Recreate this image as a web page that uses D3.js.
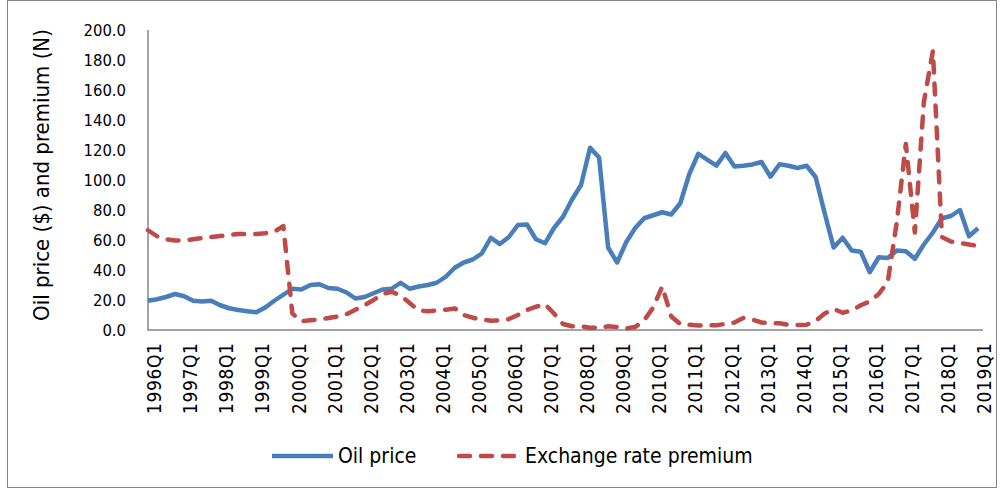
<!DOCTYPE html>
<html>
<head>
<meta charset="utf-8">
<script src="https://cdn.jsdelivr.net/npm/d3@7"></script>
<style>
body { margin: 0; background: #fff; }
text { font-family: "Liberation Sans Narrow", "Arial Narrow", "DejaVu Sans Condensed", sans-serif; fill: #000; }
</style>
</head>
<body>
<div id="chart"></div>
<script>
var years = d3.range(1996, 2020);
var quarters = [];
years.forEach(function (yr) {
  [1, 2, 3, 4].forEach(function (q) {
    if (yr < 2019 || q == 1) quarters.push(yr + "Q" + q);
  });
});
var tickLabels = quarters.filter(function (d) { return d.slice(-2) == "Q1"; });

var oilPrice = [
  19.5, 20.5, 22, 24, 22.5, 19.5, 19, 19.5,
  16.5, 14.5, 13.3, 12.5, 11.8, 15, 19.5, 23.5,
  27.5, 27, 30, 30.5, 28, 27.5, 25, 21,
  22, 24.5, 27, 27.5, 31.5, 27.5, 29, 30,
  31.5, 35.5, 41.5, 45, 47, 51, 61.5, 57.3,
  62, 70, 70.4, 60.5, 57.8, 68, 75.5, 87,
  96.7, 121.5, 115, 55, 45, 58.5, 68, 74.5,
  76.5, 78.5, 77, 84.5, 104, 117.5, 113.5, 109.6,
  118, 109, 109.5, 110.4, 112, 102.2, 110.5, 109.5,
  108, 109.5, 102, 78, 55, 61.5, 53, 52.2,
  38.5, 48.5, 48, 53, 52.5, 47.5, 57, 65,
  74.5, 76, 80, 62.5, 67.8
];

var premium = [
  66.5, 62.5, 60.5, 59.6, 59.8, 60.5, 61.3, 62,
  62.7, 63.3, 64, 64, 64, 64.5, 65.5, 69.3,
  11, 5.8, 6.5, 7, 8, 9, 10.5, 13.5,
  16.5, 20, 24, 25.5, 23, 18, 13, 12.5,
  13, 13.5, 14.4, 10, 8.2, 7, 6.2, 6.5,
  7.3, 10, 13.3, 15.5, 17.3, 11, 4, 2.5,
  2.5, 1.5, 1.5, 2.5, 2, 1, 2, 6.5,
  15, 29, 9, 4, 3.5, 3, 3, 3.2,
  4, 5, 8, 7, 5, 4.4, 4.5, 3.5,
  3.3, 3.5, 6, 11, 14, 11.5, 13, 16.5,
  19, 24, 32, 72, 124, 65, 152, 186,
  62, 59, 58, 57, 56
];

var yTicks = d3.range(0, 201, 20);

var width = 1000, height = 490;
var blue = "#4a7ebb", red = "#be4b48", axisGray = "#868686";

var svg = d3.select("#chart").append("svg")
  .attr("width", width)
  .attr("height", height);

svg.append("rect")
  .attr("x", 7.5).attr("y", 0.5)
  .attr("width", 989).attr("height", 487)
  .attr("fill", "#fff")
  .attr("stroke", axisGray);

var x = d3.scalePoint().domain(quarters).range([148, 978]);
var y = d3.scaleLinear().domain([0, 200]).range([330, 30]);

// y axis labels
var yAxis = svg.append("g")
  .attr("transform", "translate(148,0)")
  .call(d3.axisLeft(y).tickValues(yTicks).tickFormat(d3.format(".1f")).tickSize(0).tickPadding(22));
yAxis.select(".domain").remove();
yAxis.selectAll("text").style("font-size", "16.5px");

// x axis labels
var xAxis = svg.append("g")
  .attr("transform", "translate(0,330)")
  .call(d3.axisBottom(x).tickValues(tickLabels).tickSize(0));
xAxis.select(".domain").remove();
xAxis.selectAll("text")
  .attr("transform", "rotate(-90)")
  .attr("text-anchor", "end")
  .attr("x", -13)
  .attr("y", 6)
  .attr("dy", "0.35em")
  .attr("textLength", 71)
  .attr("lengthAdjust", "spacing")
  .style("font-size", "19px");

svg.append("line")
  .attr("x1", 148).attr("x2", 148)
  .attr("y1", 30).attr("y2", 330.5)
  .attr("stroke", axisGray).attr("stroke-width", 1.5);
svg.append("line")
  .attr("x1", 147.5).attr("x2", 983)
  .attr("y1", 330).attr("y2", 330)
  .attr("stroke", axisGray).attr("stroke-width", 1.5);

svg.append("text")
  .attr("transform", "translate(41,175) rotate(-90)")
  .attr("text-anchor", "middle")
  .attr("dy", "0.35em")
  .style("font-size", "22px")
  .text("Oil price ($) and premium (N)");

var line = d3.line()
  .x(function (d, i) { return x(quarters[i]); })
  .y(function (d) { return y(d); });

// oil first, premium on top (series order)
svg.append("path")
  .datum(oilPrice)
  .attr("d", line)
  .attr("fill", "none")
  .attr("stroke", blue)
  .attr("stroke-width", 4.5)
  .attr("stroke-linejoin", "round");

svg.append("path")
  .datum(premium)
  .attr("d", line)
  .attr("fill", "none")
  .attr("stroke", red)
  .attr("stroke-width", 4.5)
  .attr("stroke-linecap", "round")
  .attr("stroke-linejoin", "round")
  .attr("stroke-dasharray", "11,11");

// legend
var legend = svg.append("g").attr("transform", "translate(0,456)");
legend.append("line")
  .attr("x1", 272).attr("x2", 333)
  .attr("stroke", blue).attr("stroke-width", 4.5);
legend.append("text")
  .attr("x", 338).attr("dy", "0.35em")
  .style("font-size", "21px")
  .text("Oil price");
legend.append("line")
  .attr("x1", 459).attr("x2", 515)
  .attr("stroke", red).attr("stroke-width", 4.5)
  .attr("stroke-linecap", "round")
  .attr("stroke-dasharray", "11,11");
legend.append("text")
  .attr("x", 525).attr("dy", "0.35em")
  .style("font-size", "21px")
  .text("Exchange rate premium");
</script>
</body>
</html>
